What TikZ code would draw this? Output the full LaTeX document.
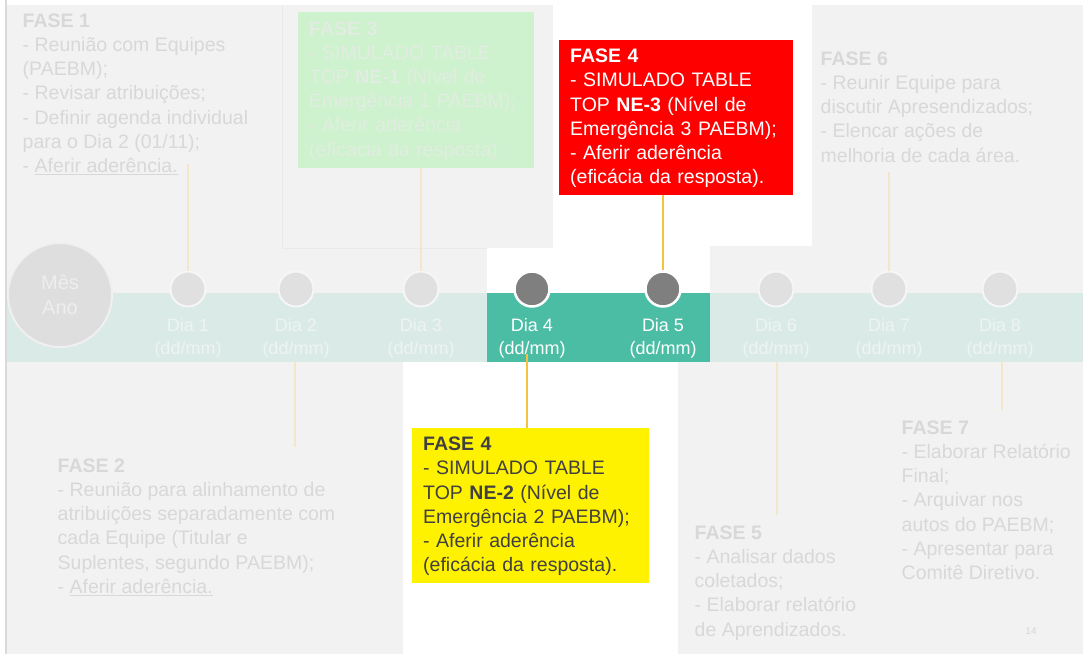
\documentclass[tikz,border=0pt]{standalone}
\usepackage{fontspec}
\setmainfont{Liberation Sans}
% fixed height for the first line of every text block
\newcommand\topstrut{\rule{0pt}{15pt}}
\definecolor{panel}{HTML}{F2F2F2}
\definecolor{paneledge}{HTML}{EAEAEA}
\definecolor{frameline}{HTML}{D9D9D9}
\definecolor{bandoff}{HTML}{DAEAE6}
\definecolor{bandon}{HTML}{4BBDA5}
\definecolor{fadetext}{HTML}{D8D8D8}
\definecolor{dotoff}{HTML}{E0E0E0}
\definecolor{ringoff}{HTML}{F6F6F6}
\definecolor{doton}{HTML}{7F7F7F}
\definecolor{labeloff}{HTML}{EEF4F2}
\definecolor{clinkoff}{HTML}{F3E6C9}
\definecolor{clinkon}{HTML}{F4C141}
\definecolor{greenbox}{HTML}{CDF2CD}
\definecolor{greentext}{HTML}{E2ECE2}
\definecolor{monthfill}{HTML}{DEDEDE}
\definecolor{monthring}{HTML}{F0F0F0}
\definecolor{monthtext}{HTML}{EEEEEE}
\definecolor{darktext}{HTML}{404040}
\begin{document}
\begin{tikzpicture}[x=1pt,y=-1pt,
  phasetext/.style={anchor=north west, inner sep=0pt, align=left, text=fadetext,
    font=\fontsize{19.5}{24.2}\selectfont},
  phasebox/.style={anchor=north west, inner xsep=11pt, inner ysep=0pt, align=left,
    font=\fontsize{19.5}{24.2}\selectfont},
  daydot/.style={circle, minimum size=35pt, inner sep=0pt, fill=dotoff, draw=ringoff, line width=2pt},
  dayon/.style={daydot, fill=doton, draw=white, line width=2.5pt},
  daylabel/.style={align=center, inner sep=0pt, font=\fontsize{18}{23}\selectfont, text=labeloff},
  link/.style={line width=1.3pt, draw=clinkoff},
  linkon/.style={line width=1.6pt, draw=clinkon}
]
\useasboundingbox (0,0) rectangle (1083,654);
\fill[white] (0,0) rectangle (1083,654);

% dimmed panels around the highlighted days
\fill[panel] (7,5) rectangle (553,293);
\fill[panel] (7,248) rectangle (487,293);
\fill[panel] (812,5) rectangle (1083,293);
\fill[panel] (710,246) rectangle (1083,293);
\fill[panel] (7,362) rectangle (403,654);
\fill[panel] (678,362) rectangle (1083,654);
\fill[white] (487,248) rectangle (710,293);
\draw[paneledge, line width=0.8pt] (282,5) -- (282,248) -- (487,248);
\draw[frameline, line width=2pt] (6,0) -- (6,654);

% timeline band
\fill[bandoff] (7,293) rectangle (1083,362);
\fill[bandon] (487,293) rectangle (710,362);

% month marker
\node[circle, minimum size=104pt, inner sep=0pt, fill=monthfill, draw=monthring, line width=2pt,
  align=center, text=monthtext, font=\fontsize{20}{25}\selectfont] (month) at (60,295) {Mês\\Ano};

% day dots
\node[daydot] (d1) at (188,289) {};
\node[daydot] (d2) at (296,289) {};
\node[daydot] (d3) at (421,289) {};
\node[dayon]  (d4) at (532,289) {};
\node[dayon]  (d5) at (663,289) {};
\node[daydot] (d6) at (776,289) {};
\node[daydot] (d7) at (889,289) {};
\node[daydot] (d8) at (1000,289) {};

% day labels
\node[daylabel] (l1) at (188,338) {Dia 1\\(dd/mm)};
\node[daylabel] (l2) at (296,338) {Dia 2\\(dd/mm)};
\node[daylabel] (l3) at (421,338) {Dia 3\\(dd/mm)};
\node[daylabel, text=white] (l4) at (532,338) {Dia 4\\(dd/mm)};
\node[daylabel, text=white] (l5) at (663,338) {Dia 5\\(dd/mm)};
\node[daylabel] (l6) at (776,338) {Dia 6\\(dd/mm)};
\node[daylabel] (l7) at (889,338) {Dia 7\\(dd/mm)};
\node[daylabel] (l8) at (1000,338) {Dia 8\\(dd/mm)};

% phase texts
\node[phasetext] (f1) at (22.5,12) {\topstrut\textbf{FASE 1}\\- Reunião com Equipes\\(PAEBM);\\- Revisar atribuições;\\- Definir agenda individual\\para o Dia 2 (01/11);\\- \underline{Aferir aderência.}};
\node[phasetext] (f6) at (820.5,50) {\topstrut\textbf{FASE 6}\\- Reunir Equipe para\\discutir Apresendizados;\\- Elencar ações de\\melhoria de cada área.};
\node[phasetext] (f2) at (57.5,457) {\topstrut\textbf{FASE 2}\\- Reunião para alinhamento de\\atribuições separadamente com\\cada Equipe (Titular e\\Suplentes, segundo PAEBM);\\- \underline{Aferir aderência.}};
\node[phasetext] (f5) at (694.5,524) {\topstrut\textbf{FASE 5}\\- Analisar dados\\coletados;\\- Elaborar relatório\\de Aprendizados.};
\node[phasetext] (f7) at (901.5,419) {\topstrut\textbf{FASE 7}\\- Elaborar Relatório\\Final;\\- Arquivar nos\\autos do PAEBM;\\- Apresentar para\\Comitê Diretivo.};

% phase boxes
\node[phasebox, fill=greenbox, text=greentext, minimum width=236pt, minimum height=156pt, text width=214pt]
  (g3) at (298,12) {\topstrut\textbf{FASE 3}\\- SIMULADO TABLE\\TOP \textbf{NE-1} (Nível de\\Emergência 1 PAEBM);\\- Aferir aderência\\(eficácia da resposta).};
\node[phasebox, fill=red, text=white, minimum width=234pt, minimum height=155pt, text width=212pt]
  (r4) at (559,40) {\topstrut\textbf{FASE 4}\\- SIMULADO TABLE\\TOP \textbf{NE-3} (Nível de\\Emergência 3 PAEBM);\\- Aferir aderência\\(eficácia da resposta).};
\node[phasebox, fill=yellow, text=darktext, minimum width=237pt, minimum height=155pt, text width=215pt]
  (y4) at (412,428) {\topstrut\textbf{FASE 4}\\- SIMULADO TABLE\\TOP \textbf{NE-2} (Nível de\\Emergência 2 PAEBM);\\- Aferir aderência\\(eficácia da resposta).};

% free ends of the connectors
\coordinate (c1) at (188,164);
\coordinate (c6) at (889,172);
\coordinate (c2a) at (295,362);
\coordinate (c2b) at (295,447);
\coordinate (c4) at (527,354);
\coordinate (c5a) at (777,362);
\coordinate (c5b) at (777,515);
\coordinate (c7a) at (1002,362);
\coordinate (c7b) at (1002,410);

% connectors
\draw[link] (c1) -- (d1);
\draw[link] (g3.south -| d3) -- (d3);
\draw[linkon] (r4.south -| d5) -- (d5);
\draw[link] (c6) -- (d7);
\draw[link] (c2a) -- (c2b);
\draw[linkon] (c4) -- (c4 |- y4.north);
\draw[link] (c5a) -- (c5b);
\draw[link] (c7a) -- (c7b);

% page number
\node[text=fadetext, font=\fontsize{10}{12}\selectfont, inner sep=0pt] (pg) at (1031,631) {14};
\end{tikzpicture}
\end{document}
